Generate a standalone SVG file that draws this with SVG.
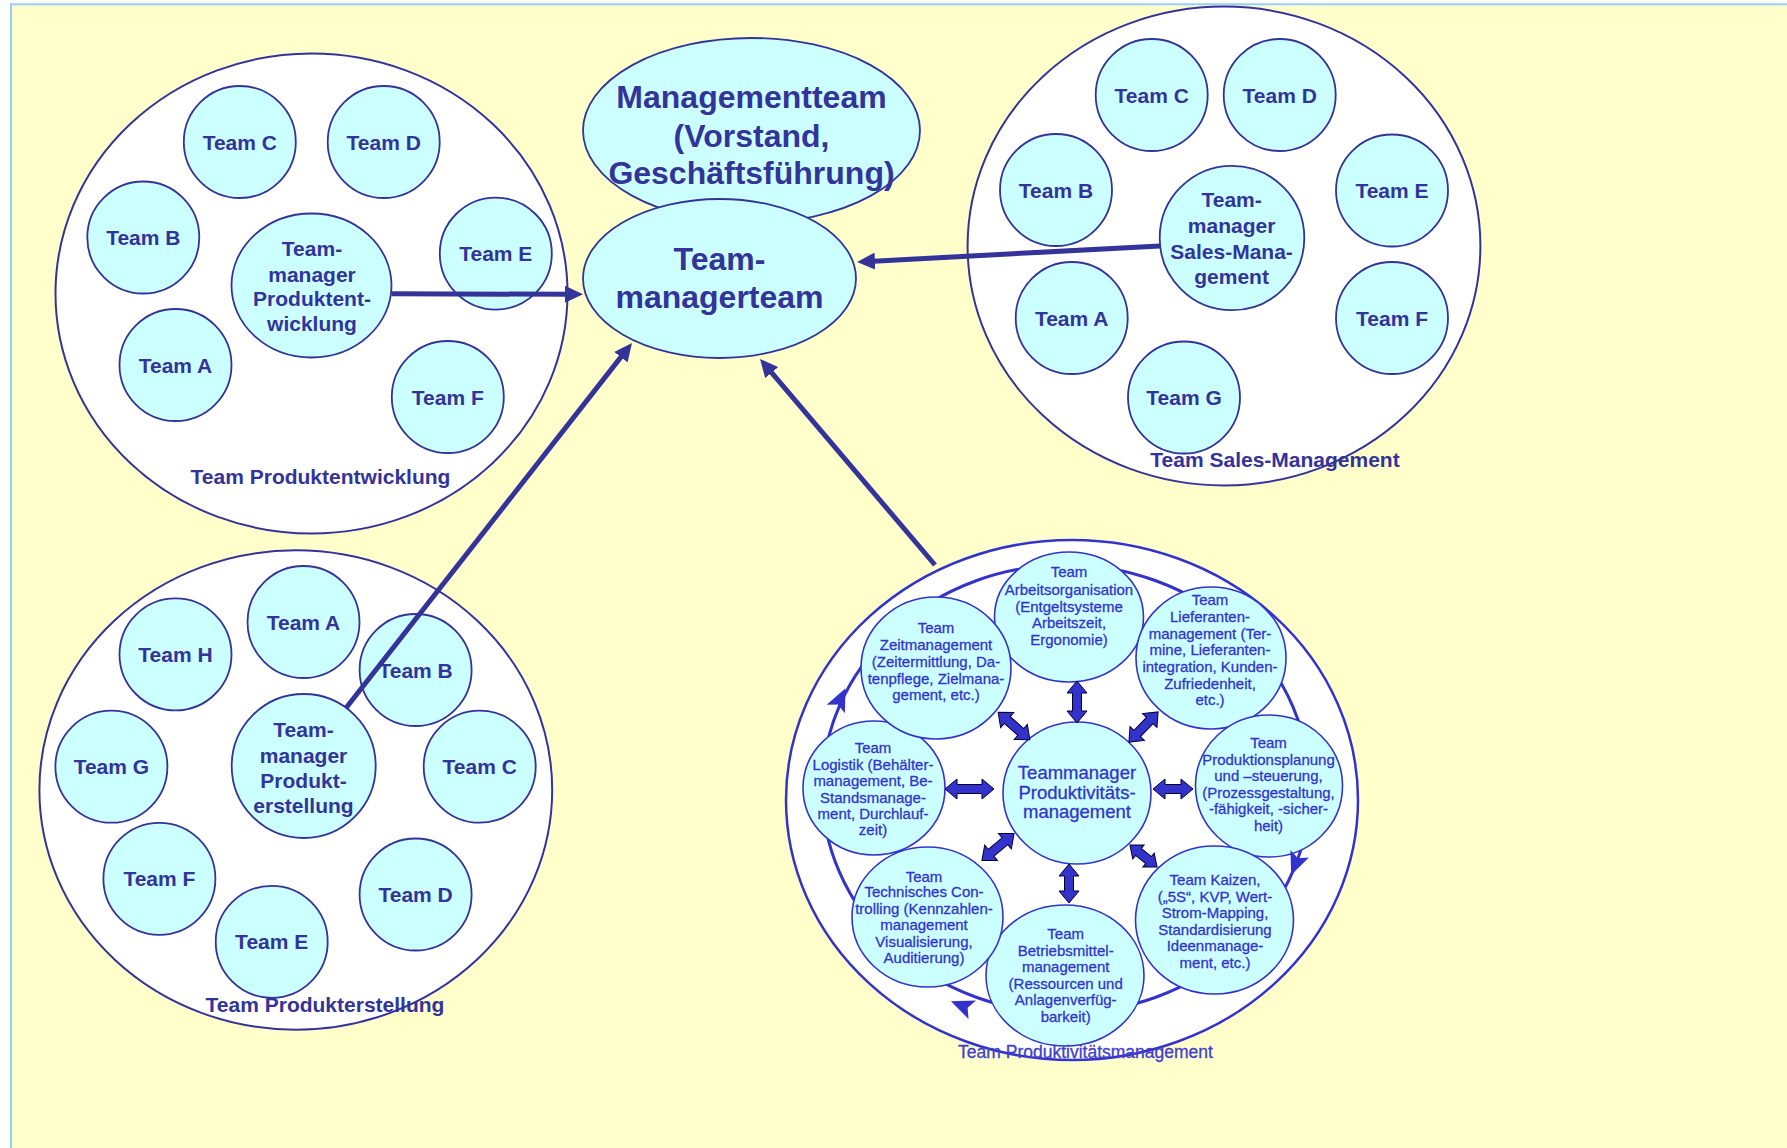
<svg xmlns="http://www.w3.org/2000/svg" width="1787" height="1148" viewBox="0 0 1787 1148">
  <defs>
    <style>
      .bg { fill: #FFFFCC; stroke: #99CCFF; stroke-width: 2; }
      .outer { fill: #FFFFFF; stroke: #333399; stroke-width: 2; }
      .team { fill: #CCFFFF; stroke: #333399; stroke-width: 1.8; }
      .tb { font-family: "Liberation Sans", Arial, sans-serif; font-weight: bold; fill: #333399; text-anchor: middle; }
      .t21 { font-size: 21px; }
      .t32 { font-size: 32px; }
      .pouter { fill: #FFFFFF; stroke: #3333CC; stroke-width: 2.5; }
      .ring { fill: none; stroke: #3333CC; stroke-width: 3; }
      .pteam { fill: #CCFFFF; stroke: #3333CC; stroke-width: 1.6; }
      .pt { font-family: "Liberation Sans", Arial, sans-serif; fill: #3333CC; stroke: #3333CC; stroke-width: 0.3; text-anchor: middle; }
      .p15 { font-size: 15px; }
      .p18 { font-size: 18.5px; }
      .p17 { font-size: 17.5px; fill: #4040CC; stroke: #4040CC; }
      .dbl { fill: #3333CC; stroke: #000033; stroke-width: 1; }
      .ringhead { fill: #3333CC; }
      .conn { fill: none; stroke: #333399; stroke-width: 5; }
    </style>
    <marker id="head" markerUnits="userSpaceOnUse" markerWidth="18" markerHeight="17" refX="6" refY="8.5" orient="auto">
      <path d="M0 0 L18 8.5 L0 17 Z" fill="#333399"/>
    </marker>
    <path id="rh" d="M13 0 L-10 -10 L-5 0 L-10 10 Z"/>
  </defs>

  <!-- slide background -->
  <rect width="1787" height="1148" fill="#FFFFFF"/>
  <rect class="bg" x="11" y="4.3" width="1790" height="1160"/>

  <!-- top management -->
  <g id="managementteam">
    <ellipse class="team" cx="751.5" cy="130.5" rx="168.5" ry="92.5"/>
    <text class="tb t32" x="751.5" y="108">Managementteam</text>
    <text class="tb t32" x="751.5" y="147">(Vorstand,</text>
    <text class="tb t32" x="751.5" y="184">Geschäftsführung)</text>
  </g>
  <g id="teammanagerteam">
    <ellipse class="team" cx="719.5" cy="278.5" rx="136.5" ry="79.5"/>
    <text class="tb t32" x="719.5" y="270">Team-</text>
    <text class="tb t32" x="719.5" y="308">managerteam</text>
  </g>

  <!-- Team Produktentwicklung -->
  <g id="team-produktentwicklung">
    <ellipse class="outer" cx="311.5" cy="293.5" rx="256" ry="240"/>
    <g id="pe-team-c"><circle class="team" cx="239.8" cy="142" r="56"/><text class="tb t21" x="239.8" y="149.5">Team C</text></g>
    <g id="pe-team-d"><circle class="team" cx="383.7" cy="142" r="56"/><text class="tb t21" x="383.7" y="149.5">Team D</text></g>
    <g id="pe-team-b"><circle class="team" cx="143.3" cy="237.5" r="56"/><text class="tb t21" x="143.3" y="245">Team B</text></g>
    <g id="pe-team-e"><circle class="team" cx="495.8" cy="253.6" r="56"/><text class="tb t21" x="495.8" y="261">Team E</text></g>
    <g id="pe-team-a"><circle class="team" cx="175.5" cy="365" r="56"/><text class="tb t21" x="175.5" y="372.5">Team A</text></g>
    <g id="pe-team-f"><circle class="team" cx="447.8" cy="397" r="56"/><text class="tb t21" x="447.8" y="404.5">Team F</text></g>
    <g id="pe-manager">
      <ellipse class="team" cx="311.5" cy="285.5" rx="80" ry="72"/>
      <text class="tb t21" x="312" y="256">Team-</text>
      <text class="tb t21" x="312" y="281.6">manager</text>
      <text class="tb t21" x="312" y="306">Produktent-</text>
      <text class="tb t21" x="312" y="331.4">wicklung</text>
    </g>
    <text class="tb t21" x="320.5" y="483.5">Team Produktentwicklung</text>
  </g>

  <!-- Team Sales-Management -->
  <g id="team-sales-management">
    <ellipse class="outer" cx="1224" cy="246" rx="256.4" ry="239.4"/>
    <g id="sm-team-c"><circle class="team" cx="1151.7" cy="95" r="56"/><text class="tb t21" x="1151.7" y="102.5">Team C</text></g>
    <g id="sm-team-d"><circle class="team" cx="1279.7" cy="95" r="56"/><text class="tb t21" x="1279.7" y="102.5">Team D</text></g>
    <g id="sm-team-b"><circle class="team" cx="1056" cy="190" r="56"/><text class="tb t21" x="1056" y="197.5">Team B</text></g>
    <g id="sm-team-e"><circle class="team" cx="1392" cy="190.5" r="56"/><text class="tb t21" x="1392" y="198">Team E</text></g>
    <g id="sm-team-a"><circle class="team" cx="1071.7" cy="318" r="56"/><text class="tb t21" x="1071.7" y="325.5">Team A</text></g>
    <g id="sm-team-f"><circle class="team" cx="1392" cy="318" r="56"/><text class="tb t21" x="1392" y="325.5">Team F</text></g>
    <g id="sm-team-g"><circle class="team" cx="1184" cy="397.5" r="56"/><text class="tb t21" x="1184" y="405">Team G</text></g>
    <g id="sm-manager">
      <ellipse class="team" cx="1232" cy="238" rx="72.3" ry="72.2"/>
      <text class="tb t21" x="1231.6" y="207.3">Team-</text>
      <text class="tb t21" x="1231.6" y="233.2">manager</text>
      <text class="tb t21" x="1231.6" y="259">Sales-Mana-</text>
      <text class="tb t21" x="1231.6" y="283.7">gement</text>
    </g>
    <text class="tb t21" x="1275" y="467">Team Sales-Management</text>
  </g>

  <!-- Team Produkterstellung -->
  <g id="team-produkterstellung">
    <ellipse class="outer" cx="295.8" cy="790" rx="256.4" ry="239.7"/>
    <g id="px-team-h"><circle class="team" cx="175.5" cy="654.4" r="56"/><text class="tb t21" x="175.5" y="662">Team H</text></g>
    <g id="px-team-a"><circle class="team" cx="303.5" cy="622" r="56"/><text class="tb t21" x="303.5" y="629.5">Team A</text></g>
    <g id="px-team-b"><circle class="team" cx="415.6" cy="670" r="56"/><text class="tb t21" x="415.6" y="677.5">Team B</text></g>
    <g id="px-team-g"><circle class="team" cx="111.4" cy="766.7" r="56"/><text class="tb t21" x="111.4" y="774.2">Team G</text></g>
    <g id="px-team-c"><circle class="team" cx="479.7" cy="766.7" r="56"/><text class="tb t21" x="479.7" y="774.2">Team C</text></g>
    <g id="px-team-f"><circle class="team" cx="159.4" cy="878.8" r="56"/><text class="tb t21" x="159.4" y="886.3">Team F</text></g>
    <g id="px-team-d"><circle class="team" cx="415.6" cy="894.5" r="56"/><text class="tb t21" x="415.6" y="902">Team D</text></g>
    <g id="px-team-e"><circle class="team" cx="271.7" cy="941.8" r="56"/><text class="tb t21" x="271.7" y="949.3">Team E</text></g>
    <g id="px-manager">
      <ellipse class="team" cx="303.7" cy="766" rx="72" ry="72"/>
      <text class="tb t21" x="303.5" y="736.7">Team-</text>
      <text class="tb t21" x="303.5" y="762.7">manager</text>
      <text class="tb t21" x="303.5" y="787.7">Produkt-</text>
      <text class="tb t21" x="303.5" y="813.3">erstellung</text>
    </g>
    <text class="tb t21" x="325" y="1011.7">Team Produkterstellung</text>
  </g>

  <!-- Team Produktivitätsmanagement -->
  <g id="team-produktivitaetsmanagement">
    <ellipse class="pouter" cx="1072" cy="800" rx="286" ry="260"/>
    <!-- clockwise cycle ring -->
    <ellipse class="ring" cx="1066" cy="789" rx="244" ry="224"/>

    <g id="pm-arbeitsorganisation">
      <ellipse class="pteam" cx="1069" cy="617" rx="74.5" ry="65"/>
      <text class="pt p15" x="1069" y="577">Team</text>
      <text class="pt p15" x="1069" y="595">Arbeitsorganisation</text>
      <text class="pt p15" x="1069" y="611.5">(Entgeltsysteme</text>
      <text class="pt p15" x="1069" y="628">Arbeitszeit,</text>
      <text class="pt p15" x="1069" y="644.5">Ergonomie)</text>
    </g>
    <g id="pm-lieferantenmanagement">
      <ellipse class="pteam" cx="1211" cy="658" rx="75" ry="71"/>
      <text class="pt p15" x="1210" y="605">Team</text>
      <text class="pt p15" x="1210" y="622">Lieferanten-</text>
      <text class="pt p15" x="1210" y="638.5">management (Ter-</text>
      <text class="pt p15" x="1210" y="655">mine, Lieferanten-</text>
      <text class="pt p15" x="1210" y="672">integration, Kunden-</text>
      <text class="pt p15" x="1210" y="688.5">Zufriedenheit,</text>
      <text class="pt p15" x="1210" y="705">etc.)</text>
    </g>
    <g id="pm-produktionsplanung">
      <ellipse class="pteam" cx="1269" cy="786" rx="73.5" ry="71"/>
      <text class="pt p15" x="1268.5" y="748">Team</text>
      <text class="pt p15" x="1268.5" y="765">Produktionsplanung</text>
      <text class="pt p15" x="1268.5" y="781">und –steuerung,</text>
      <text class="pt p15" x="1268.5" y="798">(Prozessgestaltung,</text>
      <text class="pt p15" x="1268.5" y="814">-fähigkeit, -sicher-</text>
      <text class="pt p15" x="1268.5" y="831">heit)</text>
    </g>
    <g id="pm-kaizen">
      <ellipse class="pteam" cx="1214.5" cy="920" rx="79" ry="74"/>
      <text class="pt p15" x="1215" y="885">Team Kaizen,</text>
      <text class="pt p15" x="1215" y="901.7">(„5S“, KVP, Wert-</text>
      <text class="pt p15" x="1215" y="918">Strom-Mapping,</text>
      <text class="pt p15" x="1215" y="934.5">Standardisierung</text>
      <text class="pt p15" x="1215" y="951">Ideenmanage-</text>
      <text class="pt p15" x="1215" y="967.7">ment, etc.)</text>
    </g>
    <g id="pm-betriebsmittelmanagement">
      <ellipse class="pteam" cx="1065" cy="975.5" rx="79" ry="70.5"/>
      <text class="pt p15" x="1065.7" y="939">Team</text>
      <text class="pt p15" x="1065.7" y="955.5">Betriebsmittel-</text>
      <text class="pt p15" x="1065.7" y="971.5">management</text>
      <text class="pt p15" x="1065.7" y="988.5">(Ressourcen und</text>
      <text class="pt p15" x="1065.7" y="1005">Anlagenverfüg-</text>
      <text class="pt p15" x="1065.7" y="1021.7">barkeit)</text>
    </g>
    <g id="pm-technisches-controlling">
      <ellipse class="pteam" cx="927.5" cy="917" rx="75.5" ry="70"/>
      <text class="pt p15" x="924" y="881.7">Team</text>
      <text class="pt p15" x="924" y="897">Technisches Con-</text>
      <text class="pt p15" x="924" y="913.5">trolling (Kennzahlen-</text>
      <text class="pt p15" x="924" y="930">management</text>
      <text class="pt p15" x="924" y="946.5">Visualisierung,</text>
      <text class="pt p15" x="924" y="963">Auditierung)</text>
    </g>
    <g id="pm-logistik">
      <ellipse class="pteam" cx="874" cy="788" rx="71" ry="67"/>
      <text class="pt p15" x="873" y="753">Team</text>
      <text class="pt p15" x="873" y="769.5">Logistik (Behälter-</text>
      <text class="pt p15" x="873" y="786">management, Be-</text>
      <text class="pt p15" x="873" y="802.5">Standsmanage-</text>
      <text class="pt p15" x="873" y="818.5">ment, Durchlauf-</text>
      <text class="pt p15" x="873" y="835">zeit)</text>
    </g>
    <g id="pm-zeitmanagement">
      <ellipse class="pteam" cx="936" cy="668" rx="75" ry="71"/>
      <text class="pt p15" x="936" y="633">Team</text>
      <text class="pt p15" x="936" y="650">Zeitmanagement</text>
      <text class="pt p15" x="936" y="667">(Zeitermittlung, Da-</text>
      <text class="pt p15" x="936" y="683.5">tenpflege, Zielmana-</text>
      <text class="pt p15" x="936" y="700">gement, etc.)</text>
    </g>
    <g id="pm-manager">
      <ellipse class="pteam" cx="1077" cy="793" rx="74" ry="71"/>
      <text class="pt p18" x="1077" y="779">Teammanager</text>
      <text class="pt p18" x="1077" y="798.5">Produktivitäts-</text>
      <text class="pt p18" x="1077" y="818">management</text>
    </g>

    <!-- direction of the cycle -->
    <use class="ringhead" href="#rh" transform="translate(840 700) rotate(-65)"/>
    <use class="ringhead" href="#rh" transform="translate(1296 863) rotate(112)"/>
    <use class="ringhead" href="#rh" transform="translate(963 1006) rotate(-158)"/>

    <!-- two-way links between the manager and each team -->
    <path class="dbl" d="M-21 0 L-9 -10 L-9 -4.5 L9 -4.5 L9 -10 L21 0 L9 10 L9 4.5 L-9 4.5 L-9 10Z" transform="translate(1077 702) rotate(90)"/>
    <path class="dbl" d="M-21 0 L-9 -10 L-9 -4.5 L9 -4.5 L9 -10 L21 0 L9 10 L9 4.5 L-9 4.5 L-9 10Z" transform="translate(1014 726) rotate(41)"/>
    <path class="dbl" d="M-21 0 L-9 -10 L-9 -4.5 L9 -4.5 L9 -10 L21 0 L9 10 L9 4.5 L-9 4.5 L-9 10Z" transform="translate(1143.5 727) rotate(-46)"/>
    <path class="dbl" d="M-24.5 0 L-12.5 -10 L-12.5 -4.5 L12.5 -4.5 L12.5 -10 L24.5 0 L12.5 10 L12.5 4.5 L-12.5 4.5 L-12.5 10Z" transform="translate(969.5 789)"/>
    <path class="dbl" d="M-20 0 L-8 -10 L-8 -4.5 L8 -4.5 L8 -10 L20 0 L8 10 L8 4.5 L-8 4.5 L-8 10Z" transform="translate(1173 789)"/>
    <path class="dbl" d="M-21 0 L-9 -10 L-9 -4.5 L9 -4.5 L9 -10 L21 0 L9 10 L9 4.5 L-9 4.5 L-9 10Z" transform="translate(998 847) rotate(-40)"/>
    <path class="dbl" d="M-19.5 0 L-7.5 -10 L-7.5 -4.5 L7.5 -4.5 L7.5 -10 L19.5 0 L7.5 10 L7.5 4.5 L-7.5 4.5 L-7.5 10Z" transform="translate(1069 883.5) rotate(90)"/>
    <path class="dbl" d="M-17.5 0 L-6.5 -9 L-6.5 -4.5 L6.5 -4.5 L6.5 -9 L17.5 0 L6.5 9 L6.5 4.5 L-6.5 4.5 L-6.5 9Z" transform="translate(1143.5 856) rotate(39)"/>

    <text class="pt p17" x="1085.5" y="1058">Team Produktivitätsmanagement</text>
  </g>

  <!-- reporting lines to the Teammanagerteam -->
  <g id="connectors">
    <line class="conn" x1="391.5" y1="293.8" x2="571" y2="294.3" marker-end="url(#head)"/>
    <line class="conn" x1="1160" y1="246" x2="869" y2="261.4" marker-end="url(#head)"/>
    <line class="conn" x1="346" y1="708" x2="624.6" y2="352.4" marker-end="url(#head)"/>
    <line class="conn" x1="935" y1="565" x2="767.8" y2="368.1" marker-end="url(#head)"/>
  </g>
</svg>
